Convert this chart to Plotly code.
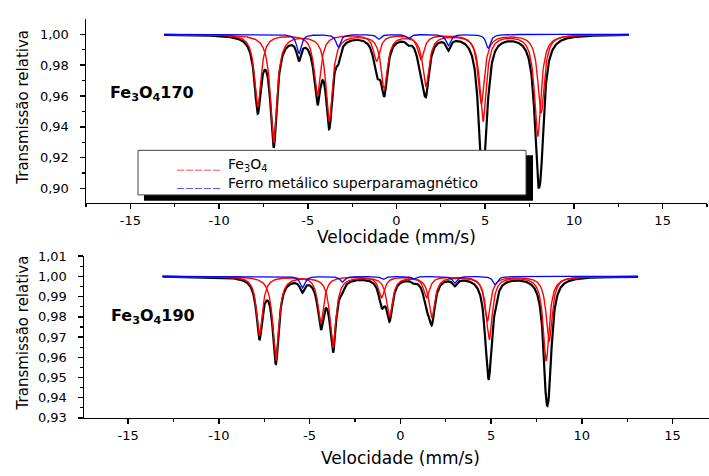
import numpy as np
import plotly.graph_objects as go

W, H = 709, 476

# ---------------- data ----------------
# velocity grid of the spectrometer channels (mm/s)
v_min, v_max, n_channels = -13.1, 13.1, 1024

# Sample Fe3O4 170 : Lorentzian line positions (mm/s), depths, half-widths
top_a_pos = [-7.82, -4.46, -1.12, 1.38, 4.78, 8.15]
top_a_depth = [0.047, 0.039, 0.017, 0.016, 0.045, 0.051]
top_b_pos = [-6.92, -3.79, -0.69, 1.66, 4.88, 7.96]
top_b_depth = [0.070, 0.056, 0.035, 0.033, 0.056, 0.066]
top_fe_pos = [-5.50, -3.28, -1.00, 0.67, 2.92, 5.17]
top_fe_depth = [0.0126, 0.0084, 0.0031, 0.0025, 0.0074, 0.0090]
top_hw = 0.22
top_fe_hw = 0.15

# Sample Fe3O4 190
bot_a_pos = [-7.76, -4.38, -1.03, 1.45, 4.80, 8.20]
bot_a_depth = [0.029, 0.023, 0.0104, 0.0104, 0.022, 0.032]
bot_b_pos = [-6.86, -3.71, -0.59, 1.74, 4.90, 8.04]
bot_b_depth = [0.0416, 0.0352, 0.0197, 0.020, 0.031, 0.0416]
bot_fe_pos = [-5.40, -3.20, -0.95, 0.75, 3.00, 5.23]
bot_fe_depth = [0.0057, 0.0028, 0.0015, 0.0012, 0.0033, 0.0041]
bot_hw = 0.20
bot_fe_hw = 0.15

x_tickvals = [-15, -10, -5, 0, 5, 10, 15]
x_ticktext = ["-15", "-10", "-5", "0", "5", "10", "15"]
top_y_tickvals = [0.90, 0.92, 0.94, 0.96, 0.98, 1.00]
top_y_ticktext = ["0,90", "0,92", "0,94", "0,96", "0,98", "1,00"]
bot_y_tickvals = [0.93, 0.94, 0.95, 0.96, 0.97, 0.98, 0.99, 1.00, 1.01]
bot_y_ticktext = ["0,93", "0,94", "0,95", "0,96", "0,97", "0,98", "0,99", "1,00", "1,01"]

legend_labels = ["Fe<sub>3</sub>O<sub>4</sub>", "Ferro metálico superparamagnético"]
sample_labels = ["<b>Fe<sub>3</sub>O<sub>4</sub>170</b>", "<b>Fe<sub>3</sub>O<sub>4</sub>190</b>"]
x_title = "Velocidade (mm/s)"
y_title = "Transmissão relativa"

# ---------------- model line shapes ----------------
v = np.linspace(v_min, v_max, n_channels)


def absorption(pos, depth, hw):
    a = np.zeros_like(v)
    for p, d in zip(pos, depth):
        a += d / (1.0 + ((v - p) / hw) ** 2)
    return a


FONT = "DejaVu Sans"
fig = go.Figure()


def add_panel(xa, ya, a_pos, a_dep, b_pos, b_dep, f_pos, f_dep, hw, fhw):
    A = absorption(a_pos, a_dep, hw)
    B = absorption(b_pos, b_dep, hw)
    F = absorption(f_pos, f_dep, fhw)
    total = 1.0 - A - B - F
    fig.add_trace(go.Scatter(x=v, y=total, mode="lines", xaxis=xa, yaxis=ya,
                             line=dict(color="black", width=2.2), showlegend=False))
    for comp in (A, B):
        fig.add_trace(go.Scatter(x=v, y=1.0 - comp, mode="lines", xaxis=xa, yaxis=ya,
                                 line=dict(color="red", width=1.4), showlegend=False))
    fig.add_trace(go.Scatter(x=v, y=1.0 - F, mode="lines", xaxis=xa, yaxis=ya,
                             line=dict(color="blue", width=1.3), showlegend=False))


add_panel("x", "y", top_a_pos, top_a_depth, top_b_pos, top_b_depth,
          top_fe_pos, top_fe_depth, top_hw, top_fe_hw)
add_panel("x2", "y2", bot_a_pos, bot_a_depth, bot_b_pos, bot_b_depth,
          bot_fe_pos, bot_fe_depth, bot_hw, bot_fe_hw)


def px(x):
    return x / W


def py(y):
    return 1 - y / H


axis_common = dict(showline=True, linecolor="black", linewidth=1.5, showgrid=False,
                   zeroline=False, ticks="outside", ticklen=5, tickwidth=1.5,
                   tickcolor="black", tickfont=dict(family=FONT, size=13, color="black"),
                   tickmode="array")

fig.update_layout(
    width=W, height=H, autosize=False,
    margin=dict(l=0, r=0, t=0, b=0),
    paper_bgcolor="white", plot_bgcolor="white",
    font=dict(family=FONT, color="black"),
    showlegend=False,
    xaxis=dict(axis_common, domain=[px(86), px(707)], range=[-17.5, 17.5],
               tickvals=x_tickvals, ticktext=x_ticktext, anchor="y",
               minor=dict(tickmode="linear", tick0=0, dtick=2.5, ticks="outside",
                          ticklen=3, tickwidth=1.2, tickcolor="black")),
    yaxis=dict(axis_common, domain=[py(202), py(12.7)], range=[0.8908, 1.0098],
               tickvals=top_y_tickvals, ticktext=top_y_ticktext, anchor="x",
               ticklabelstandoff=8,
               minor=dict(tickmode="linear", tick0=0, dtick=0.01, ticks="outside",
                          ticklen=3, tickwidth=1.2, tickcolor="black")),
    xaxis2=dict(axis_common, domain=[px(84), 1.0], range=[-17.43, 17.01],
                tickvals=x_tickvals, ticktext=x_ticktext, anchor="y2",
                minor=dict(tickmode="linear", tick0=0, dtick=2.5, ticks="outside",
                           ticklen=3, tickwidth=1.2, tickcolor="black")),
    yaxis2=dict(axis_common, domain=[py(424.3), py(257.3)], range=[0.93, 1.01],
                tickvals=bot_y_tickvals, ticktext=bot_y_ticktext, anchor="x2",
                ticklabelstandoff=8,
                minor=dict(tickmode="linear", tick0=0, dtick=0.005, ticks="outside",
                           ticklen=3, tickwidth=1.2, tickcolor="black")),
)

# legend box (with shadow) drawn in the upper panel
shapes = [
    dict(type="rect", xref="paper", yref="paper", x0=px(144), x1=px(533),
         y0=py(200), y1=py(153), fillcolor="black", line=dict(width=0), layer="above"),
    dict(type="rect", xref="paper", yref="paper", x0=px(138), x1=px(526),
         y0=py(194), y1=py(148), fillcolor="white", line=dict(color="#444", width=1),
         layer="above"),
    dict(type="line", xref="paper", yref="paper", x0=px(177), x1=px(222),
         y0=py(168.5), y1=py(168.5), line=dict(color="rgb(240,80,80)", width=1, dash="7px,2px"),
         layer="above"),
    dict(type="line", xref="paper", yref="paper", x0=px(177), x1=px(222),
         y0=py(187.5), y1=py(187.5), line=dict(color="rgb(80,80,240)", width=1, dash="7px,2px"),
         layer="above"),
]
fig.update_layout(shapes=shapes)

ann = []
ann.append(dict(text=legend_labels[0], x=px(226), y=py(163), xref="paper", yref="paper",
                xanchor="left", yanchor="middle", showarrow=False,
                font=dict(family=FONT, size=14, color="black")))
ann.append(dict(text=legend_labels[1], x=px(226), y=py(182), xref="paper", yref="paper",
                xanchor="left", yanchor="middle", showarrow=False,
                font=dict(family=FONT, size=14, color="black")))
ann.append(dict(text=sample_labels[0], x=px(108), y=py(89), xref="paper", yref="paper",
                xanchor="left", yanchor="middle", showarrow=False,
                font=dict(family=FONT, size=16, color="black")))
ann.append(dict(text=sample_labels[1], x=px(109), y=py(320), xref="paper", yref="paper",
                xanchor="left", yanchor="middle", showarrow=False,
                font=dict(family=FONT, size=16, color="black")))
for (cx, cy) in [(396.5, 237), (400, 466)]:
    ann.append(dict(text=x_title, x=px(cx), y=py(cy), xref="paper", yref="paper",
                    xanchor="center", yanchor="middle", showarrow=False,
                    font=dict(family=FONT, size=17, color="black")))
for (cx, cy) in [(23, 104), (23, 337)]:
    ann.append(dict(text=y_title, x=px(cx), y=py(cy), xref="paper", yref="paper",
                    xanchor="center", yanchor="middle", showarrow=False, textangle=-90,
                    font=dict(family=FONT, size=15, color="black")))
fig.update_layout(annotations=ann)

fig.write_html("out.html",
               config={"displayModeBar": False, "staticPlot": True},
               post_script="document.body.style.margin='0';document.body.style.overflow='hidden';")
